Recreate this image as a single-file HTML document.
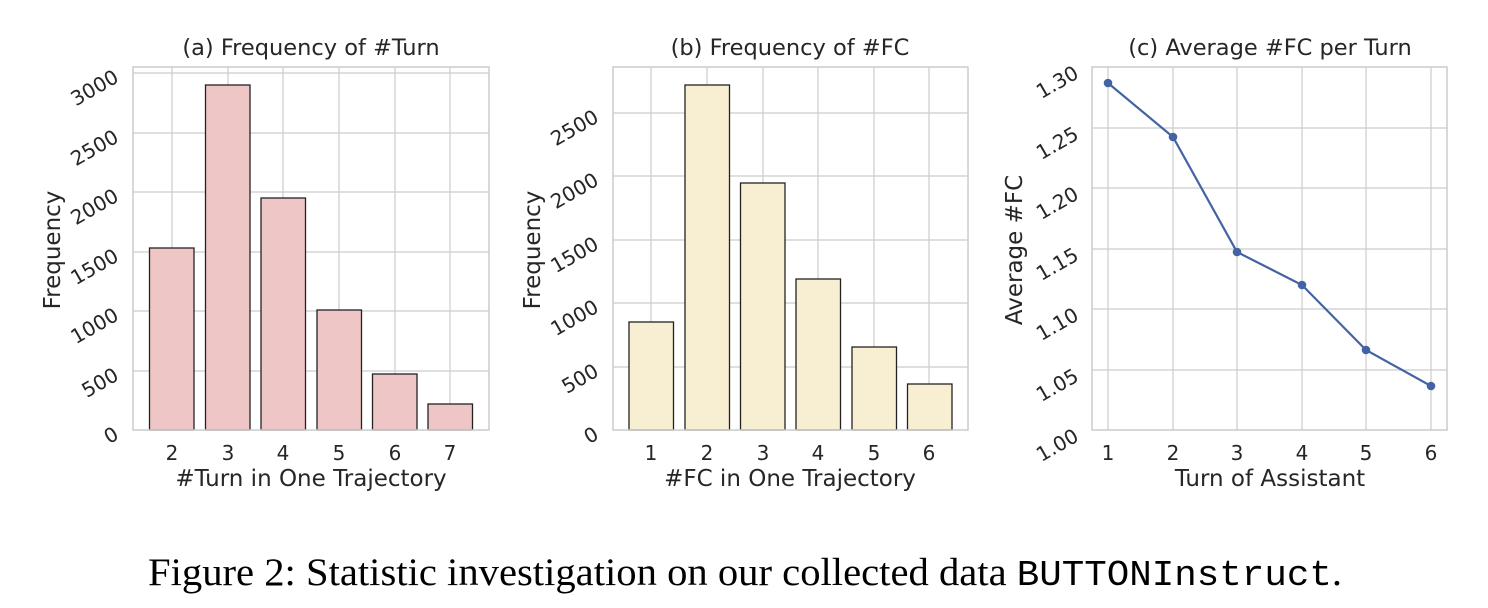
<!DOCTYPE html>
<html><head><style>
html,body{margin:0;padding:0;background:#fff;}
svg{display:block;}
</style></head><body>
<svg width="1488" height="608" xmlns="http://www.w3.org/2000/svg" font-family="'DejaVu Sans', 'Liberation Sans', sans-serif" fill="#262626">
<!-- Chart A -->
<g stroke="#cccccc" stroke-width="1.2">
<line x1="133" y1="371" x2="489" y2="371"/><line x1="133" y1="311" x2="489" y2="311"/><line x1="133" y1="252" x2="489" y2="252"/><line x1="133" y1="192" x2="489" y2="192"/><line x1="133" y1="133" x2="489" y2="133"/><line x1="133" y1="73" x2="489" y2="73"/>
<line x1="172" y1="67" x2="172" y2="430"/><line x1="228" y1="67" x2="228" y2="430"/><line x1="283" y1="67" x2="283" y2="430"/><line x1="339" y1="67" x2="339" y2="430"/><line x1="395" y1="67" x2="395" y2="430"/><line x1="450" y1="67" x2="450" y2="430"/>
</g>
<g fill="#eec6c6" stroke="#222" stroke-width="1.3">
<rect x="149.5" y="248" width="44.5" height="182"/><rect x="205.5" y="85" width="44.5" height="345"/><rect x="261" y="198" width="44.5" height="232"/><rect x="317" y="310" width="44.5" height="120"/><rect x="372.5" y="374" width="44.5" height="56"/><rect x="428" y="404" width="44.5" height="26"/>
</g>
<rect x="133" y="67" width="356" height="363" fill="none" stroke="#cccccc" stroke-width="1.5"/>
<text x="311" y="55" font-size="22.5" text-anchor="middle">(a) Frequency of #Turn</text>
<g font-size="20" text-anchor="middle">
<text x="172" y="460">2</text><text x="228" y="460">3</text><text x="283" y="460">4</text><text x="339" y="460">5</text><text x="395" y="460">6</text><text x="450" y="460">7</text>
</g>
<text x="311" y="486" font-size="23" text-anchor="middle">#Turn in One Trajectory</text>
<text transform="translate(60,250) rotate(-90)" font-size="23" text-anchor="middle">Frequency</text>
<g font-size="20" text-anchor="end">
<text transform="translate(120,438) rotate(-30)">0</text><text transform="translate(120,379) rotate(-30)">500</text><text transform="translate(120,319) rotate(-30)">1000</text><text transform="translate(120,260) rotate(-30)">1500</text><text transform="translate(120,200) rotate(-30)">2000</text><text transform="translate(120,141) rotate(-30)">2500</text><text transform="translate(120,81) rotate(-30)">3000</text>
</g>
<!-- Chart B -->
<g stroke="#cccccc" stroke-width="1.2">
<line x1="613" y1="367" x2="968" y2="367"/><line x1="613" y1="303" x2="968" y2="303"/><line x1="613" y1="240" x2="968" y2="240"/><line x1="613" y1="176" x2="968" y2="176"/><line x1="613" y1="113" x2="968" y2="113"/>
<line x1="651" y1="67" x2="651" y2="430"/><line x1="707" y1="67" x2="707" y2="430"/><line x1="763" y1="67" x2="763" y2="430"/><line x1="818" y1="67" x2="818" y2="430"/><line x1="874" y1="67" x2="874" y2="430"/><line x1="929" y1="67" x2="929" y2="430"/>
</g>
<g fill="#f8efd2" stroke="#222" stroke-width="1.3">
<rect x="629" y="322" width="44.5" height="108"/><rect x="685" y="85" width="44.5" height="345"/><rect x="740.5" y="183" width="44.5" height="247"/><rect x="796" y="279" width="44.5" height="151"/><rect x="852" y="347" width="44.5" height="83"/><rect x="907.5" y="384" width="44.5" height="46"/>
</g>
<rect x="613" y="67" width="355" height="363" fill="none" stroke="#cccccc" stroke-width="1.5"/>
<text x="790" y="55" font-size="22.5" text-anchor="middle">(b) Frequency of #FC</text>
<g font-size="20" text-anchor="middle">
<text x="651" y="460">1</text><text x="707" y="460">2</text><text x="763" y="460">3</text><text x="818" y="460">4</text><text x="874" y="460">5</text><text x="929" y="460">6</text>
</g>
<text x="790" y="486" font-size="23" text-anchor="middle">#FC in One Trajectory</text>
<text transform="translate(540,250) rotate(-90)" font-size="23" text-anchor="middle">Frequency</text>
<g font-size="20" text-anchor="end">
<text transform="translate(600,438) rotate(-30)">0</text><text transform="translate(600,375) rotate(-30)">500</text><text transform="translate(600,311) rotate(-30)">1000</text><text transform="translate(600,248) rotate(-30)">1500</text><text transform="translate(600,184) rotate(-30)">2000</text><text transform="translate(600,121) rotate(-30)">2500</text>
</g>
<!-- Chart C -->
<g stroke="#cccccc" stroke-width="1.2">
<line x1="1092" y1="370" x2="1447" y2="370"/><line x1="1092" y1="309" x2="1447" y2="309"/><line x1="1092" y1="249" x2="1447" y2="249"/><line x1="1092" y1="188" x2="1447" y2="188"/><line x1="1092" y1="128" x2="1447" y2="128"/>
<line x1="1108" y1="67" x2="1108" y2="430"/><line x1="1173" y1="67" x2="1173" y2="430"/><line x1="1237" y1="67" x2="1237" y2="430"/><line x1="1302" y1="67" x2="1302" y2="430"/><line x1="1366" y1="67" x2="1366" y2="430"/><line x1="1431" y1="67" x2="1431" y2="430"/>
</g>
<rect x="1092" y="67" width="355" height="363" fill="none" stroke="#cccccc" stroke-width="1.5"/>
<polyline points="1108,83 1173,137 1237,252 1302,285 1366,350 1431,386" fill="none" stroke="#4463a4" stroke-width="2.2"/>
<g fill="#4463a4">
<circle cx="1108" cy="83" r="4.3"/><circle cx="1173" cy="137" r="4.3"/><circle cx="1237" cy="252" r="4.3"/><circle cx="1302" cy="285" r="4.3"/><circle cx="1366" cy="350" r="4.3"/><circle cx="1431" cy="386" r="4.3"/>
</g>
<text x="1270" y="55" font-size="22.5" text-anchor="middle">(c) Average #FC per Turn</text>
<g font-size="20" text-anchor="middle">
<text x="1108" y="460">1</text><text x="1173" y="460">2</text><text x="1237" y="460">3</text><text x="1302" y="460">4</text><text x="1366" y="460">5</text><text x="1431" y="460">6</text>
</g>
<text x="1270" y="486" font-size="23" text-anchor="middle">Turn of Assistant</text>
<text transform="translate(1022,250) rotate(-90)" font-size="23" text-anchor="middle">Average #FC</text>
<g font-size="20" text-anchor="end">
<text transform="translate(1080,440) rotate(-30)">1.00</text><text transform="translate(1080,380) rotate(-30)">1.05</text><text transform="translate(1080,319) rotate(-30)">1.10</text><text transform="translate(1080,259) rotate(-30)">1.15</text><text transform="translate(1080,198) rotate(-30)">1.20</text><text transform="translate(1080,138) rotate(-30)">1.25</text><text transform="translate(1080,77) rotate(-30)">1.30</text>
</g>
<!-- Caption -->
<text x="148" y="585" font-size="39" fill="#000" font-family="'Liberation Serif', serif" textLength="1194" lengthAdjust="spacingAndGlyphs">Figure 2: Statistic investigation on our collected data <tspan font-family="'Liberation Mono', monospace" font-size="36">BUTTONInstruct</tspan>.</text>
</svg>
</body></html>
